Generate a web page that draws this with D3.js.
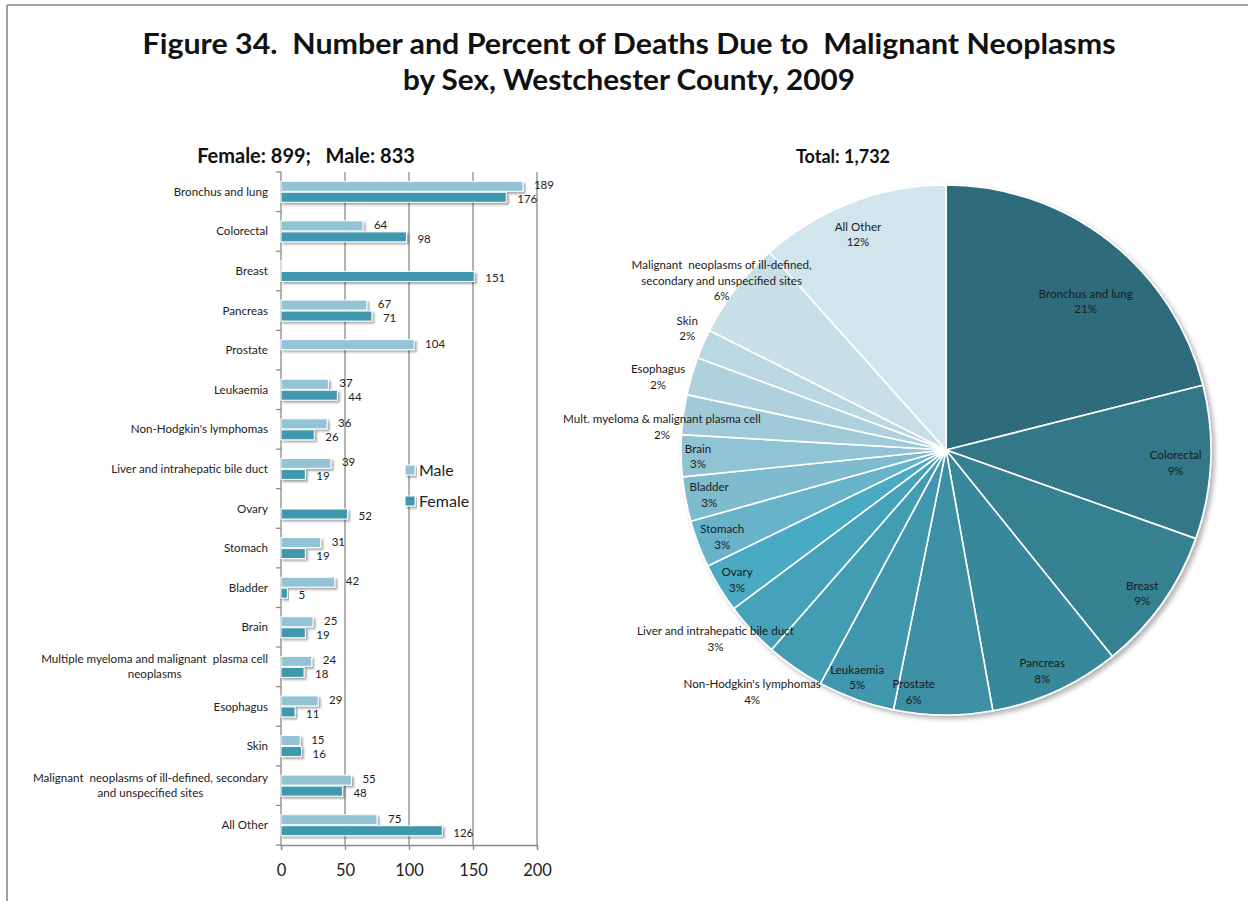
<!DOCTYPE html>
<html>
<head>
<meta charset="utf-8">
<script src="https://cdn.jsdelivr.net/npm/d3@7"></script>
<style>
  html, body { margin: 0; padding: 0; background: #fff; }
  svg { display: block; font-family: Lato, "Open Sans", sans-serif; }
  text { white-space: pre; }
</style>
</head>
<body>
<svg id="chart" width="1248" height="901"></svg>
<script>
// Cancer sites, in the order used by both charts
const categories = [
  "Bronchus and lung", "Colorectal", "Breast", "Pancreas", "Prostate", "Leukaemia",
  "Non-Hodgkin's lymphomas", "Liver and intrahepatic bile duct", "Ovary", "Stomach",
  "Bladder", "Brain", "Multiple myeloma and malignant  plasma cell neoplasms",
  "Esophagus", "Skin",
  "Malignant neoplasms of ill-defined, secondary and unspecified sites", "All Other"
];
// Bar-chart category labels, split into lines
const categoryLines = [
  ["Bronchus and lung"], ["Colorectal"], ["Breast"], ["Pancreas"], ["Prostate"], ["Leukaemia"],
  ["Non-Hodgkin's lymphomas"], ["Liver and intrahepatic bile duct"], ["Ovary"], ["Stomach"],
  ["Bladder"], ["Brain"], ["Multiple myeloma and malignant  plasma cell", "neoplasms"],
  ["Esophagus"], ["Skin"],
  ["Malignant  neoplasms of ill-defined, secondary", "and unspecified sites"], ["All Other"]
];
const maleDeaths   = [189, 64, 1, 67, 104, 37, 36, 39, null, 31, 42, 25, 24, 29, 15, 55, 75];
const femaleDeaths = [176, 98, 151, 71, null, 44, 26, 19, 52, 19, 5, 19, 18, 11, 16, 48, 126];
const seriesNames = ["Male", "Female"];
const xTicks = [0, 50, 100, 150, 200];
// Pie-slice labels
const pieLabels = [
  ["Bronchus and lung"], ["Colorectal"], ["Breast"], ["Pancreas"], ["Prostate"], ["Leukaemia"],
  ["Non-Hodgkin's lymphomas"], ["Liver and intrahepatic bile duct"], ["Ovary"], ["Stomach"],
  ["Bladder"], ["Brain"], ["Mult. myeloma & malignant plasma cell"], ["Esophagus"], ["Skin"],
  ["Malignant  neoplasms of ill-defined,", "secondary and unspecified sites"], ["All Other"]
];
const titleLines = [
  "Figure 34.  Number and Percent of Deaths Due to  Malignant Neoplasms",
  "by Sex, Westchester County, 2009"
];

// ---- styling / layout ----
const seriesColors = { Male: "#93C4D5", Female: "#4098AF" };
const sliceColors = [
  "#2F6C7C", "#337888", "#368091", "#39889B", "#3C8FA4", "#3F96AC", "#429DB3", "#45A2B9",
  "#4AAAC3", "#67B3C9", "#7FBBCE", "#90C3D3", "#A1CAD9", "#AED1DD", "#BBD8E2", "#C8DFE7", "#D3E5EC"
];
// label distance from the pie centre and small angular nudge (degrees) per slice
const pieLabelRadius = [204, 230, 243, 241, 244, 244, 310, 298, 246, 240, 241, 248, 285, 297, 286, 281, 233];
const pieLabelShift  = [5.3, 0.5, 0.8, 1, 7, 1.5, 4, 3.5, -0.5, -0.4, 0, -0.2, -3, -2, 1.6, -0.5, -1.3];
const labelFont = 11.6;

const svg = d3.select("#chart");
const defs = svg.append("defs");
defs.append("filter").attr("id", "barShadow").attr("x", "-10%").attr("y", "-40%").attr("width", "130%").attr("height", "200%")
  .append("feDropShadow").attr("dx", 2).attr("dy", 2).attr("stdDeviation", 1)
  .attr("flood-color", "#000").attr("flood-opacity", 0.35);
defs.append("filter").attr("id", "pieShadow").attr("x", "-10%").attr("y", "-10%").attr("width", "125%").attr("height", "125%")
  .append("feDropShadow").attr("dx", 3).attr("dy", 3).attr("stdDeviation", 2.5)
  .attr("flood-color", "#000").attr("flood-opacity", 0.3);

// page frame
svg.append("line").attr("x1", 7).attr("x2", 1248).attr("y1", 5).attr("y2", 5).attr("stroke", "#a0a0a0").attr("stroke-width", 2);
svg.append("line").attr("x1", 7).attr("x2", 7).attr("y1", 5).attr("y2", 901).attr("stroke", "#a0a0a0").attr("stroke-width", 2);

// title
const titleWidths = [973, 452];
titleLines.forEach((t, i) => {
  svg.append("text")
    .attr("x", 629).attr("y", 54 + i * 36)
    .attr("text-anchor", "middle")
    .attr("font-size", 29).attr("font-weight", 700).attr("fill", "#111")
    .attr("textLength", titleWidths[i]).attr("lengthAdjust", "spacingAndGlyphs")
    .text(t);
});

// ================= Bar chart =================
const x = d3.scaleLinear().domain([0, 200]).range([281, 537]);
const y = d3.scaleBand().domain(categories).range([172, 845]).paddingInner(0).paddingOuter(0);
const barH = 10;

const maleTotal = d3.sum(maleDeaths), femaleTotal = d3.sum(femaleDeaths);
svg.append("text").attr("x", 306).attr("y", 163).attr("text-anchor", "middle")
  .attr("font-size", 20).attr("font-weight", 700).attr("fill", "#111")
  .text(`Female: ${femaleTotal};   Male: ${maleTotal}`);

// vertical gridlines
svg.append("g").selectAll("line").data(xTicks.filter(d => d > 0)).join("line")
  .attr("x1", d => x(d)).attr("x2", d => x(d))
  .attr("y1", 172).attr("y2", 845)
  .attr("stroke", "#8a8a8a").attr("stroke-width", 1.3);

// bottom axis
const xAxis = svg.append("g").attr("transform", "translate(0,845)")
  .call(d3.axisBottom(x).tickValues(xTicks).tickSize(5).tickPadding(14));
xAxis.select(".domain").attr("stroke", "#8a8a8a").attr("stroke-width", 1.3);
xAxis.selectAll(".tick line").attr("stroke", "#8a8a8a").attr("stroke-width", 1.3);
xAxis.selectAll(".tick text").attr("font-size", 16.5).attr("font-family", "Lato, sans-serif").attr("fill", "#222");

// left axis with ticks between categories
svg.append("line").attr("x1", x(0)).attr("x2", x(0)).attr("y1", 172).attr("y2", 845)
  .attr("stroke", "#8a8a8a").attr("stroke-width", 1.3);
const boundaries = categories.map(c => y(c)).concat([y.range()[1]]);
svg.append("g").selectAll("line").data(boundaries).join("line")
  .attr("x1", x(0) - 5).attr("x2", x(0)).attr("y1", d => d).attr("y2", d => d)
  .attr("stroke", "#8a8a8a").attr("stroke-width", 1.3);

// category labels
const catG = svg.append("g").attr("font-size", labelFont).attr("fill", "#222");
categories.forEach((c, i) => {
  const lines = categoryLines[i];
  const cy = y(c) + y.bandwidth() / 2;
  const g = catG.append("g");
  const texts = lines.map((ln, j) => g.append("text")
    .attr("y", cy + (j - (lines.length - 1) / 2) * 15)
    .attr("dy", "0.35em")
    .text(ln));
  const maxW = d3.max(texts, t => t.node().getComputedTextLength());
  texts.forEach(t => t.attr("x", 268 - maxW / 2).attr("text-anchor", "middle"));
});

// bars: male above female within each category
const series = [
  { name: "Male", values: maleDeaths, offset: -barH - 0.5, labelNudge: -1 },
  { name: "Female", values: femaleDeaths, offset: 0.5, labelNudge: 2 }
];
series.forEach(s => {
  const rows = categories.map((c, i) => ({ c, v: s.values[i] })).filter(d => d.v != null);
  const g = svg.append("g");
  g.selectAll("rect").data(rows).join("rect")
    .attr("x", x(0))
    .attr("y", d => y(d.c) + y.bandwidth() / 2 + s.offset)
    .attr("width", d => x(d.v) - x(0))
    .attr("height", barH)
    .attr("fill", seriesColors[s.name])
    .attr("stroke", "#fff").attr("stroke-width", 1)
    .attr("filter", "url(#barShadow)");
  // single-death counts are left unlabelled
  g.selectAll("text").data(rows.filter(d => d.v > 1)).join("text")
    .attr("x", d => x(d.v) + 11)
    .attr("y", d => y(d.c) + y.bandwidth() / 2 + s.offset + barH / 2 + s.labelNudge)
    .attr("dy", "0.35em")
    .attr("font-size", 11.5).attr("fill", "#222")
    .text(d => d.v);
});

// legend
seriesNames.forEach((n, i) => {
  const ly = 470 + i * 31;
  svg.append("rect").attr("x", 405).attr("y", ly - 5).attr("width", 10).attr("height", 10)
    .attr("fill", seriesColors[n]).attr("stroke", "#fff").attr("stroke-width", 1)
    .attr("filter", "url(#barShadow)");
  svg.append("text").attr("x", 419).attr("y", ly).attr("dy", "0.35em")
    .attr("font-size", 16).attr("fill", "#222").text(n);
});

// ================= Pie chart =================
const totals = categories.map((c, i) => (maleDeaths[i] || 0) + (femaleDeaths[i] || 0));
const grandTotal = d3.sum(totals);
const cx = 946, cy = 450, R = 265;

svg.append("text").attr("x", 843).attr("y", 163).attr("text-anchor", "middle")
  .attr("font-size", 18).attr("font-weight", 700).attr("fill", "#111")
  .text(`Total: ${d3.format(",")(grandTotal)}`);

const arcs = d3.pie().sort(null).value(d => d)(totals);
const arc = d3.arc().innerRadius(0).outerRadius(R);
const pieG = svg.append("g").attr("transform", `translate(${cx},${cy})`);
pieG.append("g").attr("filter", "url(#pieShadow)")
  .selectAll("path").data(arcs).join("path")
  .attr("d", arc)
  .attr("fill", (d, i) => sliceColors[i])
  .attr("stroke", "#fff").attr("stroke-width", 1.6).attr("stroke-linejoin", "round");

const pct = d3.format(".0%");
arcs.forEach((a, i) => {
  const ang = (a.startAngle + a.endAngle) / 2 + pieLabelShift[i] * Math.PI / 180;
  const r = pieLabelRadius[i];
  const lx = r * Math.sin(ang), ly = -r * Math.cos(ang);
  const lines = pieLabels[i].concat([pct(a.value / grandTotal)]);
  lines.forEach((ln, j) => {
    pieG.append("text")
      .attr("x", lx).attr("y", ly + (j - (lines.length - 1) / 2) * 15.5)
      .attr("dy", "0.35em").attr("text-anchor", "middle")
      .attr("font-size", labelFont).attr("fill", "#1a1a1a")
      .text(ln);
  });
});
</script>
</body>
</html>
